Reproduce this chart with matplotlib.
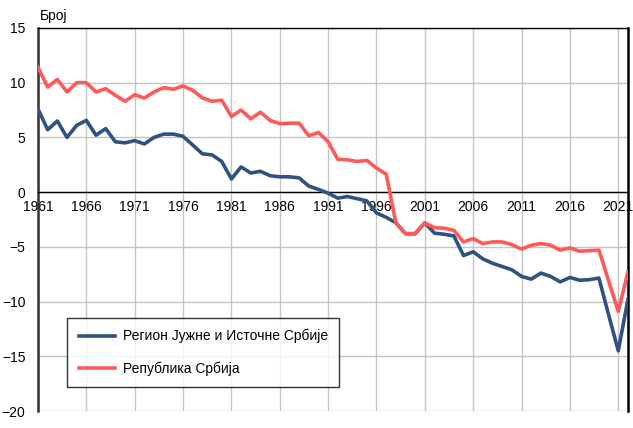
import matplotlib.pyplot as plt
import numpy as np

plt.rcParams['font.family'] = ['Liberation Sans', 'DejaVu Sans']

years = list(range(1961, 2023))

region = [7.6, 5.7, 6.5, 5.0, 6.1, 6.55, 5.2, 5.8, 4.6, 4.5,
          4.7, 4.4, 5.0, 5.3, 5.3, 5.1, 4.3, 3.5, 3.4, 2.8,
          1.2, 2.3, 1.75, 1.9, 1.5, 1.4, 1.4, 1.3, 0.55, 0.25,
          -0.1, -0.55, -0.4, -0.6, -0.8, -1.9, -2.3, -2.8, -3.8, -3.8,
          -2.8, -3.75, -3.85, -4.0, -5.8, -5.45, -6.1, -6.5, -6.8, -7.1,
          -7.7, -7.95, -7.4, -7.7, -8.2, -7.8, -8.05, -8.0, -7.85, -11.2,
          -14.5, -9.8]

serbia = [11.4, 9.6, 10.3, 9.15, 10.0, 10.0, 9.15, 9.45, 8.85, 8.3,
          8.9, 8.6, 9.15, 9.55, 9.4, 9.7, 9.3, 8.6, 8.3, 8.4,
          6.9, 7.5, 6.7, 7.3, 6.55, 6.25, 6.3, 6.3, 5.15, 5.45,
          4.6, 3.0, 2.95, 2.8, 2.9, 2.2, 1.65, -2.8, -3.8, -3.8,
          -2.8, -3.25, -3.3, -3.5, -4.55, -4.25, -4.7, -4.55, -4.55, -4.8,
          -5.2, -4.85, -4.7, -4.85, -5.3, -5.1, -5.4, -5.35, -5.3, -8.1,
          -10.9, -7.3]

labels = ['Регион Јужне и Источне Србије', 'Република Србија']

fig = plt.figure(figsize=(6.33, 4.28), dpi=100)
ax = fig.add_axes([0.060, 0.0397, 0.932, 0.895])

ax.plot(years, region, color='#2f5280', lw=2.6, label=labels[0], zorder=3)
ax.plot(years, serbia, color='#ff5a5a', lw=2.6, label=labels[1], zorder=3)

ax.set_xlim(1961, 2022)
ax.set_ylim(-20, 15)
ax.set_xticks(range(1961, 2022, 5))
ax.set_yticks(range(-20, 16, 5))
ax.grid(True, color='#c4c4c4', lw=1.0, zorder=0)

# x axis crosses at zero
ax.spines['bottom'].set_position(('data', 0))
ax.spines['bottom'].set_color('black')
ax.spines['bottom'].set_linewidth(1.0)
ax.spines['top'].set_linewidth(1.0)
ax.spines['left'].set_linewidth(1.8)
ax.spines['left'].set_color('#333333')
ax.spines['right'].set_linewidth(1.8)
ax.tick_params(length=0, labelsize=10)
ax.tick_params(axis='y', pad=9)
ax.tick_params(axis='x', pad=6)

fig.text(0.063, 0.962, 'Број', fontsize=10, ha='left', va='center')

leg = ax.legend(loc='upper left', bbox_to_anchor=(0.05, 0.243), fontsize=10,
                frameon=True, fancybox=False, edgecolor='black',
                handlelength=2.6, handletextpad=0.6, labelspacing=1.3,
                borderpad=0.8, borderaxespad=0)
leg.get_frame().set_linewidth(1.0)
leg.set_zorder(5)

fig.savefig('out.png', dpi=100)
